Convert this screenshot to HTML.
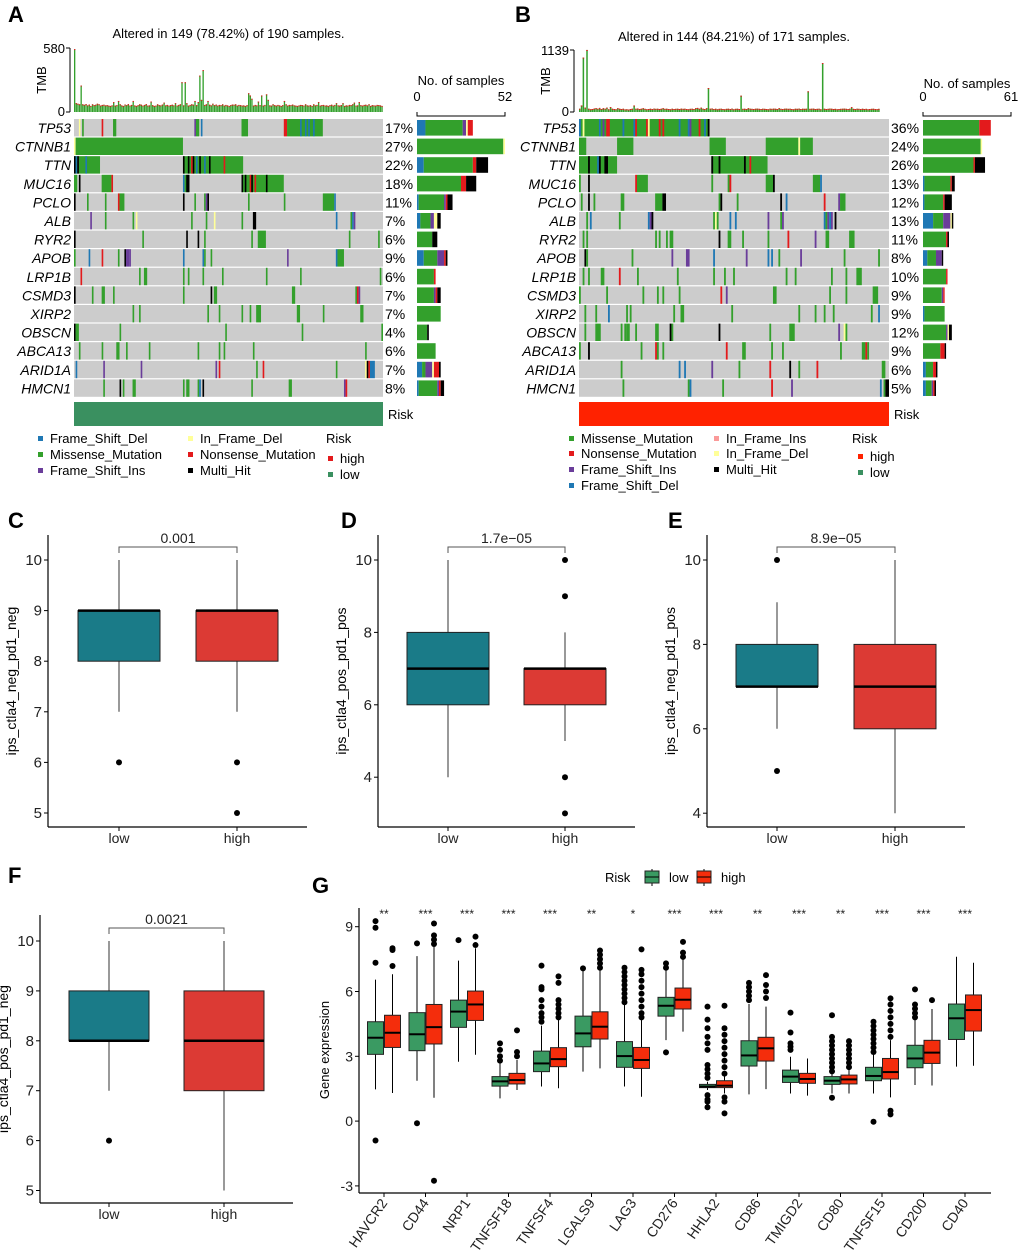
<!DOCTYPE html>
<html><head><meta charset="utf-8"><style>
html,body{margin:0;padding:0;background:#fff}
svg{display:block;font-family:"Liberation Sans",Arial,sans-serif}
</style></head><body>
<svg id="fig" width="1020" height="1256" viewBox="0 0 1020 1256" xmlns="http://www.w3.org/2000/svg">
<rect width="1020" height="1256" fill="#fff"/>
<g id="root"></g>
</svg>
<script>
// ===== Oncoplot data =====
const genes = ["TP53","CTNNB1","TTN","MUC16","PCLO","ALB","RYR2","APOB","LRP1B","CSMD3","XIRP2","OBSCN","ABCA13","ARID1A","HMCN1"];
const pctA = ["17%","27%","22%","18%","11%","7%","6%","9%","6%","7%","7%","4%","6%","7%","8%"];
const pctB = ["36%","24%","26%","13%","12%","13%","11%","8%","10%","9%","9%","12%","9%","6%","5%"];
const segA = [
"131,22,g;3,1,y;5,1,g;17,1,r;24,2,g;74,1,p;75,2,g;78,1,b;103,4,g;129,2,r;139,1,b;142,1,b;144,1,b;147,1,b",
"0,1,y;1,66,g",
"0,16,g;0,1,k;1,1,b;2,1,k;7,1,b;67,37,g;67,1,k;70,1,k;72,1,r;73,1,k;75,1,b;77,1,k;80,1,b;83,1,k;92,1,r",
"0,2,g;3,1,k;17,6,g;23,1,r;67,1,b;68,3,g;69,2,k;103,26,g;103,1,k;105,1,k;108,1,r;109,1,k;111,1,r;118,1,k",
"0,1,k;8,1,g;19,1,g;27,1,r;28,3,g;67,1,k;74,1,g;80,1,g;81,1,p;82,1,k;107,1,g;129,1,g;153,7,g;160,1,b",
"10,1,p;19,1,g;36,1,g;38,1,y;72,1,g;81,1,g;86,1,y;103,1,g;110,2,k;161,1,b;170,1,g;171,1,b;172,1,p",
"0,1,k;42,1,g;69,1,k;76,1,k;80,1,g;109,1,g;113,5,g;169,1,g;187,1,g",
"0,1,g;9,1,b;17,1,r;27,1,g;31,1,k;32,2,p;34,1,p;67,1,b;79,1,b;80,1,g;84,1,g;131,1,p;161,1,b;162,4,g",
"4,1,r;40,1,g;43,2,g;67,1,g;70,1,g;79,1,g;91,1,g;118,1,g;139,1,g;188,1,g",
"0,1,k;11,1,g;17,2,g;24,1,g;67,1,g;84,1,k;86,2,g;134,2,g;173,1,g;174,1,r;175,1,p",
"36,1,g;40,1,g;82,1,g;89,1,g;103,1,g;108,1,g;112,3,g;137,2,g;153,1,g;176,2,g",
"0,1,k;1,2,g;28,1,g;93,1,g;140,1,g;189,1,g",
"3,1,g;17,1,g;26,2,g;32,1,g;46,1,g;76,1,g;89,1,g;92,1,g;110,1,g;179,1,g",
"1,1,b;18,1,p;41,1,p;87,1,p;89,1,r;112,1,g;116,1,r;161,1,g;179,1,y;180,1,k;181,1,r;182,3,b",
"18,1,g;28,1,k;30,1,g;36,2,g;67,1,g;69,2,g;76,1,g;77,1,b;79,1,k;109,1,g;132,2,g;166,1,p;167,1,r"];
const segB = [
"0,72,g;0,1,b;2,1,y;11,1,b;13,1,p;15,2,r;24,1,b;30,1,b;31,1,r;37,1,r;38,1,y;44,1,r;46,1,r;55,1,b;60,1,b;61,1,p;66,1,r;69,1,b;71,1,k",
"0,4,g;21,9,g;72,9,g;103,18,g;121,1,y;122,7,g",
"0,21,g;5,1,k;10,1,b;11,1,k;14,2,k;73,31,g;73,1,k;77,1,k;91,1,k;94,1,r",
"0,1,g;5,1,k;31,1,r;32,6,g;73,1,g;82,1,g;83,1,r;103,4,g;107,1,k;129,4,g;133,1,b",
"1,1,g;5,1,k;8,1,g;23,2,g;42,4,g;46,2,k;77,1,g;78,1,k;87,1,g;111,1,k;114,1,b;135,1,r;143,1,p;144,3,g",
"4,1,g;6,1,b;22,1,g;38,1,b;39,1,p;40,1,k;74,1,g;75,1,y;76,1,g;83,1,b;86,1,b;104,1,p;111,1,g;112,1,p;135,1,b;136,1,g;137,1,p;138,1,b;139,1,p;141,1,k",
"2,1,g;4,1,g;42,1,g;44,1,g;48,1,g;50,2,g;77,1,k;82,2,g;90,1,g;104,1,g;115,1,r;130,1,p;136,2,g;149,3,g",
"3,1,k;4,1,g;29,1,g;51,1,p;59,2,p;74,1,b;92,1,p;104,1,b;106,1,b;110,1,g;122,1,p;146,1,g;165,1,g",
"2,1,g;5,1,g;12,2,g;22,1,r;32,1,g;54,1,g;74,1,g;80,1,g;85,1,g;114,1,g;119,1,g;139,1,g;147,1,g;153,3,g",
"0,1,g;15,1,g;35,1,g;43,1,g;46,1,g;55,1,g;78,1,r;81,1,p;107,2,g;138,1,g;147,1,g;162,3,g",
"3,1,g;9,1,g;16,1,b;26,1,g;28,1,g;52,1,g;56,2,g;84,1,g;121,1,g;130,1,g;135,1,g;140,1,g;161,1,g;165,1,b",
"3,1,g;9,3,g;23,1,g;25,1,g;26,2,g;31,1,g;42,2,g;50,1,k;51,1,g;77,1,k;105,1,g;116,3,g;143,1,p;146,1,y;147,1,g",
"0,1,g;5,1,k;34,1,g;42,1,r;43,1,g;46,1,g;81,1,r;90,2,g;106,1,g;112,1,g;144,1,g;156,2,g;158,1,r;159,1,g",
"23,1,g;55,1,b;58,1,b;73,1,p;88,1,g;105,1,r;116,1,k;121,1,g;131,1,r;167,2,g",
"24,1,g;60,1,g;61,1,b;79,1,g;106,1,r;117,1,p;166,1,b;168,1,g;169,2,k"];
const cntA = [[5,22,2,1,3,0],[0,51,0,1,0,0],[4,29,0,0,2,7],[0,26,0,0,3,6],[1,15,1,0,1,3],[2,6,2,2,0,2],[0,9,0,0,0,3],[4,8,4,0,1,1],[0,10,0,0,1,0],[0,10,1,0,1,2],[0,14,0,0,0,0],[0,6,0,0,0,1],[0,11,0,0,0,0],[3,2,4,1,3,1],[1,11,1,0,1,2]];
const cntB = [[0,39,0,0,8,0],[0,40,0,1,0,0],[0,35,0,0,1,7],[1,18,0,0,1,2],[1,13,0,0,1,5],[7,7,5,1,0,1],[0,16,0,0,1,1],[3,6,4,0,0,1],[0,16,0,0,1,0],[0,13,1,0,1,0],[1,14,0,0,0,0],[0,16,1,1,0,2],[0,12,0,0,3,1],[2,5,0,0,2,1],[2,4,1,0,1,1]];
const tmbA = [570,80,75,70,240,70,65,72,60,68,55,70,62,66,75,70,58,64,66,60,62,58,55,60,90,58,62,100,70,60,55,68,62,72,58,64,100,60,55,62,70,66,58,64,72,58,60,95,62,55,58,70,62,60,68,85,60,64,58,62,66,60,80,58,64,70,270,60,270,80,58,64,70,66,100,62,90,330,110,380,64,70,100,66,60,75,62,68,58,64,62,70,58,64,60,55,62,68,66,70,58,64,62,58,60,55,62,170,150,120,58,64,60,95,62,150,58,64,160,110,60,58,70,62,58,64,60,55,62,100,70,58,64,62,68,60,58,55,60,64,62,58,70,60,58,62,55,70,60,64,90,58,62,64,58,60,55,62,66,58,64,80,60,58,62,80,55,60,58,64,62,70,85,58,60,90,62,58,64,66,60,70,55,62,60,58,64,62,60,55];
const tmbB = [60,120,1000,80,1140,60,50,55,65,70,60,75,55,70,60,80,50,90,60,55,50,70,60,55,60,48,50,45,55,60,120,60,65,55,60,70,58,50,55,60,55,62,58,60,55,60,70,58,60,55,50,60,55,58,60,55,62,58,60,55,50,58,60,55,70,75,60,80,60,55,70,440,60,65,55,60,50,58,60,55,50,58,60,55,62,50,58,60,55,300,58,60,55,70,60,58,55,60,62,58,55,60,58,55,50,60,58,62,60,55,70,58,55,60,62,58,60,55,50,60,58,62,55,60,58,60,380,58,60,62,55,58,60,50,900,60,55,58,62,60,55,58,50,55,58,60,62,58,55,60,90,58,55,60,58,55,60,55,58,50,55,58,60,55,52,58];

const boxC_low=[7,8,9,9,10], boxC_high=[7,8,9,9,10], outC_low=[6], outC_high=[6,5];
const boxD_low=[4,6,7,8,10], boxD_high=[5,6,7,7,8], outD_low=[], outD_high=[10,9,4,3];
const boxE_low=[6,7,7,8,9], boxE_high=[4,6,7,8,10], outE_low=[10,5], outE_high=[];
const boxF_low=[7,8,8,9,10], boxF_high=[5,7,8,9,10], outF_low=[6], outF_high=[];

const gCats=["HAVCR2","CD44","NRP1","TNFSF18","TNFSF4","LGALS9","LAG3","CD276","HHLA2","CD86","TMIGD2","CD80","TNFSF15","CD200","CD40"];
const gSig=["**","***","***","***","***","**","*","***","***","**","***","**","***","***","***"];
const gLow=[[1.47,3.09,3.86,4.6,6.55],[1.87,3.26,4.02,5.02,7.64],[2.75,4.34,5.07,5.6,7.43],[1.05,1.62,1.84,2.06,2.75],[1.6,2.29,2.67,3.24,4.42],[2.29,3.44,4.06,4.86,7.0],[1.6,2.49,3.01,3.68,5.45],[3.75,4.86,5.34,5.73,7.07],[1.44,1.55,1.6,1.7,1.82],[1.24,2.55,3.04,3.72,5.42],[1.28,1.79,2.06,2.36,2.98],[1.28,1.7,1.87,2.06,2.2],[1.28,1.87,2.09,2.49,3.2],[1.67,2.47,2.9,3.51,5.1],[2.52,3.78,4.76,5.42,7.61]];
const gHigh=[[1.3,3.41,4.09,4.9,6.8],[1.08,3.57,4.35,5.4,8.1],[3.07,4.66,5.4,6.02,8.0],[1.44,1.72,1.9,2.21,2.83],[1.52,2.52,2.87,3.4,4.68],[2.44,3.8,4.37,5.06,7.2],[1.13,2.44,2.83,3.41,4.68],[4.14,5.19,5.62,6.16,7.49],[1.28,1.55,1.64,1.87,2.13],[1.48,2.78,3.37,3.88,5.3],[1.18,1.75,1.95,2.21,2.9],[1.28,1.72,1.93,2.13,2.44],[1.1,1.95,2.27,2.9,3.75],[1.65,2.67,3.17,3.74,5.19],[2.56,4.17,5.14,5.84,7.33]];
const gOutLow=[[9.26,8.95,7.33,-0.9],[8.23,-0.1],[8.38],[3.6,3.3,3.0,2.8],[7.2,6.2,6.1,5.6,5.3,5.0,4.8,4.6],[7.07],[7.1,6.9,6.7,6.5,6.3,6.1,5.9,5.7,5.5],[7.3,7.1,3.18],[5.3,4.7,4.3,3.9,3.6,3.3,2.6,2.4,2.2,2.0,1.2,1.0,0.9,0.64],[6.4,6.2,6.0,5.8,5.6],[5.02,4.1,3.6,3.45,3.3],[4.9,3.9,3.7,3.5,3.3,3.1,2.9,2.7,2.5,2.3,1.08],[4.6,4.4,4.2,4.0,3.8,3.6,3.4,3.2,-0.03],[6.1,5.4,5.2,5.0,4.8],[]];
const gOutHigh=[[8.0,7.92,7.18],[9.15,8.6,8.4,8.2,-2.76],[8.54,8.15],[4.2,3.2,3.0],[6.7,6.4,5.6,5.4,5.2,5.0,4.8],[7.9,7.7,7.5,7.3,7.1],[7.95,7.0,6.8,6.5,6.2,5.9,5.6,5.3,5.0,4.8],[8.3,7.8,7.6],[5.34,4.3,4.0,3.7,3.4,3.1,2.8,2.5,2.2,1.1,0.9,0.36],[6.76,6.3,6.0,5.7],[],[3.7,3.5,3.3,3.1,2.9,2.7,2.5],[5.68,5.4,5.1,4.8,4.5,4.2,3.9,0.48,0.31],[5.6],[]];

const NS="http://www.w3.org/2000/svg";
const root=document.getElementById('root');
function el(tag,attrs,parent,text){const e=document.createElementNS(NS,tag);for(const k in attrs)e.setAttribute(k,attrs[k]);if(text!==undefined)e.textContent=text;(parent||root).appendChild(e);return e;}
function txt(x,y,s,size,anchor,parent,extra){return el('text',Object.assign({x:x,y:y,'font-size':size,'text-anchor':anchor||'start',fill:'#000'},extra||{}),parent,s);}
const typeCol={g:'#33a02c',r:'#e31a1c',b:'#1f78b4',p:'#6a3d9a',y:'#ffff99',k:'#000000',i:'#fb9a99'};
const cntCols=['#1f78b4','#33a02c','#6a3d9a','#ffff99','#e31a1c','#000000'];

[["A",8,22],["B",515,22],["C",8,528],["D",341,528],["E",668,528],["F",8,883],["G",312,893]].forEach(([l,x,y])=>{
  const t=txt(x,y,l,22,'start',null,{'font-weight':'bold'});
  
  
});

function oncoplot(opt){
  const g=el('g',{});
  
  
  const x0=opt.x0,x1=opt.x1,n=opt.n,top=119,rh=18.6;
  const sw=(x1-x0)/n;
  const tt=txt((x0+x1)/2,opt.titleY,opt.title,13,'middle',g);
  
  
  const base=112, tmbTop=opt.tmbTop;
  el('line',{x1:opt.tmbAxisX,y1:tmbTop,x2:opt.tmbAxisX,y2:base,stroke:'#000','stroke-width':1},g);
  el('line',{x1:opt.tmbAxisX-4,y1:tmbTop,x2:opt.tmbAxisX,y2:tmbTop,stroke:'#000'},g);
  el('line',{x1:opt.tmbAxisX-4,y1:base,x2:opt.tmbAxisX,y2:base,stroke:'#000'},g);
  txt(opt.tmbAxisX-5,tmbTop+5,String(opt.tmbMax),13,'end',g);
  txt(opt.tmbAxisX-5,base+4,'0',13,'end',g);
  const tl=txt(0,0,'TMB',13,'middle',g,{transform:`translate(${opt.tmbAxisX-24},${(tmbTop+base)/2}) rotate(-90)`});
  
  
  opt.tmb.slice(0,n).forEach((v,i)=>{
    const h=v/opt.tmbMax*(base-tmbTop);
    const r=el('rect',{x:x0+i*sw,y:base-h,width:Math.max(sw-0.3,0.8),height:h,fill:'#33a02c'},g);
    
    
    el('rect',{x:x0+i*sw,y:base-h,width:Math.max(sw-0.3,0.8),height:1,fill:'#e31a1c'},g);
  });
  genes.forEach((gn,j)=>{
    const y=top+j*rh;
    const bg=el('rect',{x:x0,y:y,width:x1-x0,height:rh-1.2,fill:'#cccccc'},g);
    
    
    opt.segs[j].split(';').forEach(s=>{
      const [st,len,t]=s.split(',');
      const c=el('rect',{x:x0+(+st)*sw,y:y,width:(+len)*sw,height:rh-1.2,fill:typeCol[t]},g);
      
      
    });
    const gl=txt(x0-3,y+14,gn,14,'end',g,{'font-style':'italic'});
    
    
    txt(x1+2,y+14,opt.pct[j],14,'start',g);
    let cx=opt.bx0;
    opt.cnt[j].forEach((c,k)=>{
      if(!c)return;
      const w=c/opt.bmax*(opt.bx1-opt.bx0);
      const b=el('rect',{x:cx,y:y+1,width:w,height:rh-3,fill:cntCols[k]},g);
      
      
      cx+=w;
    });
  });
  el('path',{d:`M${opt.bx0},${112} V116 H${opt.bx1} V112`,fill:'none',stroke:'#000'},g);
  txt((opt.bx0+opt.bx1)/2,opt.nsY,'No. of samples',13,'middle',g);
  txt(opt.bx0,101,'0',13,'middle',g);
  txt(opt.bx1,101,String(opt.bmax),13,'middle',g);
  const rb=el('rect',{x:x0,y:402,width:x1-x0,height:24,fill:opt.riskCol},g);
  
  
  txt(x1+5,419,'Risk',13,'start',g);
  const lg=el('g',{},g);
  
  
  opt.legend.forEach(([lx,ly,col,label])=>{
    el('rect',{x:lx,y:ly-7,width:5,height:5,fill:col},lg);
    txt(lx+12,ly,label,13,'start',lg);
  });
}

oncoplot({name:'oncoplot-low',x0:74,x1:383,n:190,title:'Altered in 149 (78.42%) of 190 samples.',titleY:38,
  tmb:tmbA,tmbMax:580,tmbTop:48,tmbAxisX:70,segs:segA,pct:pctA,cnt:cntA,bx0:417,bx1:505,bmax:52,nsY:85,riskCol:'#3a9060',
  legend:[[38,443,'#1f78b4','Frame_Shift_Del'],[38,459,'#33a02c','Missense_Mutation'],[38,475,'#6a3d9a','Frame_Shift_Ins'],
  [188,443,'#ffff99','In_Frame_Del'],[188,459,'#e31a1c','Nonsense_Mutation'],[188,475,'#000','Multi_Hit'],
  [328,463,'#e31a1c','high'],[328,479,'#3a9060','low']]});
txt(326,443,'Risk',13,'start');
oncoplot({name:'oncoplot-high',x0:579,x1:889,n:171,title:'Altered in 144 (84.21%) of 171 samples.',titleY:41,
  tmb:tmbB,tmbMax:1139,tmbTop:50,tmbAxisX:574,segs:segB,pct:pctB,cnt:cntB,bx0:923,bx1:1011,bmax:61,nsY:88,riskCol:'#ff2200',
  legend:[[569,443,'#33a02c','Missense_Mutation'],[569,458,'#e31a1c','Nonsense_Mutation'],[569,474,'#6a3d9a','Frame_Shift_Ins'],[569,490,'#1f78b4','Frame_Shift_Del'],
  [714,443,'#fb9a99','In_Frame_Ins'],[714,458,'#ffff99','In_Frame_Del'],[714,474,'#000','Multi_Hit'],
  [858,461,'#ff2200','high'],[858,477,'#3a9060','low']]});
txt(852,443,'Risk',13,'start');

function boxPanel(o){
  const g=el('g',{});
  
  
  const Y=v=>o.yRef-(v-o.vRef)*o.unit;
  el('line',{x1:o.ax,y1:o.top,x2:o.ax,y2:o.bot,stroke:'#000','stroke-width':1.2},g);
  el('line',{x1:o.ax,y1:o.bot,x2:o.right,y2:o.bot,stroke:'#000','stroke-width':1.2},g);
  o.ticks.forEach(t=>{
    el('line',{x1:o.ax-4,y1:Y(t),x2:o.ax,y2:Y(t),stroke:'#000'},g);
    const tk=txt(o.ax-6,Y(t)+5,String(t),15,'end',g,{fill:'#222'});
    
    
  });
  const yt=txt(0,0,o.ytitle,14,'middle',g,{transform:`translate(${o.ax-32},${(o.top+o.bot)/2}) rotate(-90)`});
  
  
  [['low',o.xl,o.low,o.outLow,'#1a7b88'],['high',o.xh,o.high,o.outHigh,'#dc3a34']].forEach(([lab,cx,b,outs,col])=>{
    el('line',{x1:cx,y1:o.bot,x2:cx,y2:o.bot+4,stroke:'#000'},g);
    txt(cx,o.bot+16,lab,14,'middle',g,{fill:'#222'});
    el('line',{x1:cx,y1:Y(b[0]),x2:cx,y2:Y(b[4]),stroke:'#333','stroke-width':1},g);
    const r=el('rect',{x:cx-o.hw,y:Y(b[3]),width:2*o.hw,height:Y(b[1])-Y(b[3]),fill:col,stroke:'#222','stroke-width':1},g);
    
    
    el('line',{x1:cx-o.hw,y1:Y(b[2]),x2:cx+o.hw,y2:Y(b[2]),stroke:'#000','stroke-width':2.5},g);
    outs.forEach(v=>{
      const c=el('circle',{cx:cx,cy:Y(v),r:3,fill:'#000'},g);
      
      
    });
  });
  el('path',{d:`M${o.xl},${o.br+6} V${o.br} H${o.xh} V${o.br+6}`,fill:'none',stroke:'#555'},g);
  const p=txt((o.xl+o.xh)/2,o.br-4,o.p,14,'middle',g,{fill:'#222'});
  
  
}
boxPanel({name:'panel-c-boxplot',ax:48,right:307,top:535,bot:827,yRef:560,vRef:10,unit:50.6,ticks:[5,6,7,8,9,10],xl:119,xh:237,hw:41,
  low:boxC_low,high:boxC_high,outLow:outC_low,outHigh:outC_high,br:547,p:'0.001',ytitle:'ips_ctla4_neg_pd1_neg'});
boxPanel({name:'panel-d-boxplot',ax:378,right:635,top:535,bot:827,yRef:560,vRef:10,unit:36.2,ticks:[4,6,8,10],xl:448,xh:565,hw:41,
  low:boxD_low,high:boxD_high,outLow:outD_low,outHigh:outD_high,br:547,p:'1.7e\u221205',ytitle:'ips_ctla4_pos_pd1_pos'});
boxPanel({name:'panel-e-boxplot',ax:707,right:965,top:535,bot:827,yRef:560,vRef:10,unit:42.2,ticks:[4,6,8,10],xl:777,xh:895,hw:41,
  low:boxE_low,high:boxE_high,outLow:outE_low,outHigh:outE_high,br:547,p:'8.9e\u221205',ytitle:'ips_ctla4_neg_pd1_pos'});
boxPanel({name:'panel-f-boxplot',ax:40,right:293,top:915,bot:1203,yRef:941,vRef:10,unit:49.9,ticks:[5,6,7,8,9,10],xl:109,xh:224,hw:40,
  low:boxF_low,high:boxF_high,outLow:outF_low,outHigh:outF_high,br:928,p:'0.0021',ytitle:'ips_ctla4_pos_pd1_neg'});

(function(){
  const g=el('g',{});
  
  
  const ax=359,right=991,top=908,bot=1193,step=41.5,c0=384;
  const Y=v=>926.7-(v-9)*21.6;
  const X=i=>c0+i*step;
  el('line',{x1:ax,y1:top,x2:ax,y2:bot,stroke:'#000','stroke-width':1.2},g);
  el('line',{x1:ax,y1:bot,x2:right,y2:bot,stroke:'#000','stroke-width':1.2},g);
  [-3,0,3,6,9].forEach(t=>{
    el('line',{x1:ax-4,y1:Y(t),x2:ax,y2:Y(t),stroke:'#000'},g);
    txt(ax-6,Y(t)+5,String(t),14,'end',g,{fill:'#222'});
  });
  const yt=txt(0,0,'Gene expression',13,'middle',g,{transform:`translate(329,1050) rotate(-90)`});
  
  
  const colL='#3a9a62',colH='#f42d0c';
  gCats.forEach((cat,i)=>{
    const cx=X(i);
    el('line',{x1:cx,y1:bot,x2:cx,y2:bot+4,stroke:'#000'},g);
    const xl=txt(0,0,cat,14,'end',g,{fill:'#222',transform:`translate(${cx+4},${bot+10}) rotate(-55)`});
    
    
    txt(cx,918,gSig[i],12,'middle',g,{fill:'#222'});
    [[gLow[i],gOutLow[i],cx-8.5,colL,'low'],[gHigh[i],gOutHigh[i],cx+8.5,colH,'high']].forEach(([b,outs,bx,col,lab])=>{
      el('line',{x1:bx,y1:Y(b[0]),x2:bx,y2:Y(b[4]),stroke:'#000'},g);
      const r=el('rect',{x:bx-8,y:Y(b[3]),width:16,height:Y(b[1])-Y(b[3]),fill:col,stroke:'#222','stroke-width':1},g);
      
      
      el('line',{x1:bx-8,y1:Y(b[2]),x2:bx+8,y2:Y(b[2]),stroke:'#000','stroke-width':2},g);
      outs.forEach(v=>{
        const c=el('circle',{cx:bx,cy:Y(v),r:3,fill:'#000'},g);
        
        
      });
    });
  });
  const lg=el('g',{},g);
  
  
  txt(605,882,'Risk',13,'start',lg);
  [[645,colL,'low',669],[697,colH,'high',721]].forEach(([x,col,lab,tx])=>{
    el('line',{x1:x+7,y1:869,x2:x+7,y2:886,stroke:'#000'},lg);
    el('rect',{x:x,y:871,width:14,height:12,fill:col,stroke:'#222'},lg);
    el('line',{x1:x,y1:877,x2:x+14,y2:877,stroke:'#000'},lg);
    txt(tx,882,lab,13,'start',lg);
  });
})();
</script>
</body></html>
